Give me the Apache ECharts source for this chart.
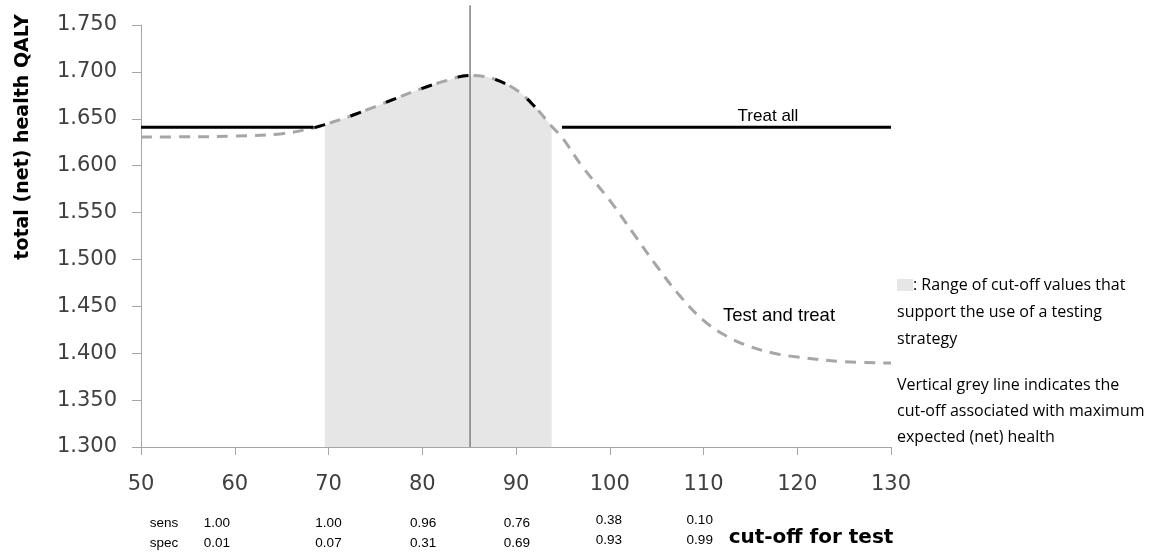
<!DOCTYPE html>
<html><head><meta charset="utf-8">
<script src="https://cdn.jsdelivr.net/npm/echarts@6/dist/echarts.min.js"></script>
<style>html,body{margin:0;padding:0;background:#fff}#c{width:1161px;height:552px}</style>
</head><body><div id="c"></div>
<script>
// ---- data ----
const cutoff    = [50, 55, 60, 65, 68.5, 69.6, 70, 72.5, 75, 77.5, 80, 82.5, 85, 86, 87.5, 90, 92, 93.8, 95, 97, 100, 102.5, 105, 107.5, 110, 112.5, 115, 117.5, 120, 125, 130];
const testTreat = [1.6305, 1.6308, 1.6315, 1.6340, 1.6405, 1.6438, 1.6450, 1.6535, 1.6630, 1.6730, 1.6825, 1.6905, 1.6962, 1.6958, 1.6930, 1.6810, 1.6630, 1.6420, 1.6290, 1.6000, 1.5630, 1.5280, 1.4930, 1.4610, 1.4350, 1.4180, 1.4070, 1.4000, 1.3960, 1.3910, 1.3895];
const treatAllValue = 1.641;
const treatAllLeft  = [50, 68.4];
const treatAllRight = [94.9, 130];
const optimalRange  = [68.5, 93.8];   // test better than treat-all (black dashed)
const shadedRange   = [69.6, 93.8];   // grey shaded region
const maxCutoff = 85.1;
const sensX      = [58.1, 70, 80.1, 90.1, 99.9, 109.6];
const sensLabels = ['1.00', '1.00', '0.96', '0.76', '0.38', '0.10'];
const specLabels = ['0.01', '0.07', '0.31', '0.69', '0.93', '0.99'];
const noteLines1 = [': Range of cut-off values that', 'support the use of a testing', 'strategy'];
const noteLines2 = ['Vertical grey line indicates the', 'cut-off associated with maximum', 'expected (net) health'];

const pts = cutoff.map((x, i) => [x, testTreat[i]]);
const inRange = (r) => pts.filter(p => p[0] >= r[0] - 1e-9 && p[0] <= r[1] + 1e-9);

const chart = echarts.init(document.getElementById('c'), null, {renderer: 'canvas'});
const axisFont = {fontFamily: 'DejaVu Sans', fontSize: 21, color: '#404040'};

const option = {
  animation: false,
  backgroundColor: '#fff',
  grid: {left: 141, right: 270, top: 25, bottom: 105},
  xAxis: {
    type: 'value', min: 50, max: 130, interval: 10,
    axisLine: {show: true, lineStyle: {color: '#a6a6a6', width: 1}},
    axisTick: {show: true, length: 8, lineStyle: {color: '#a6a6a6'}},
    axisLabel: Object.assign({margin: 27}, axisFont),
    splitLine: {show: false}
  },
  yAxis: {
    type: 'value', min: 1.3, max: 1.75, interval: 0.05,
    axisLine: {show: true, lineStyle: {color: '#a6a6a6', width: 1}},
    axisTick: {show: true, length: 9, lineStyle: {color: '#a6a6a6'}},
    axisLabel: Object.assign({margin: 24, formatter: v => v.toFixed(3)}, axisFont),
    splitLine: {show: false}
  },
  series: [
    {
      name: 'range', type: 'line', smooth: 0.4, symbol: 'none', z: 1,
      data: inRange(shadedRange),
      lineStyle: {width: 0},
      areaStyle: {color: '#e6e6e6', opacity: 1, origin: 'start'}
    },
    {
      name: 'max', type: 'line', symbol: 'none', z: 2, clip: false,
      data: [[maxCutoff, 1.3], [maxCutoff, 1.771]],
      lineStyle: {color: '#808080', width: 1.5}
    },
    {
      name: 'Test and treat', type: 'line', smooth: 0.4, symbol: 'none', z: 3,
      data: pts,
      lineStyle: {color: '#a6a6a6', width: 3, type: [11, 8]}
    },
    {
      name: 'Treat all L', type: 'line', symbol: 'none', z: 4,
      data: treatAllLeft.map(x => [x, treatAllValue]),
      lineStyle: {color: '#000', width: 3}
    },
    {
      name: 'Treat all R', type: 'line', symbol: 'none', z: 4,
      data: treatAllRight.map(x => [x, treatAllValue]),
      lineStyle: {color: '#000', width: 3}
    },
    {
      name: 'Optimal', type: 'line', smooth: 0.4, symbol: 'none', z: 5,
      data: inRange(optimalRange),
      lineStyle: {color: '#000', width: 3, type: [11, 27]}
    }
  ]
};
chart.setOption(option);

// ---- annotations ----
const g = [];
const txt = (t, x, y, font, align) => ({type: 'text', x, y,
  style: {text: t, font, fill: '#000', align: align || 'center', verticalAlign: 'middle'}});
g.push(Object.assign(txt('total (net) health QALY', 23, 137, 'bold 19px "DejaVu Sans"'), {rotation: Math.PI / 2}));
g.push(txt('cut-off for test', 811, 538, 'bold 20px "DejaVu Sans"'));
g.push(txt('Treat all', 768, 116, '17px "Liberation Sans"'));
g.push(txt('Test and treat', 779, 316, '18.5px "Liberation Sans"'));
g.push(txt('sens', 164, 523, '13.5px "Liberation Sans"'));
g.push(txt('spec', 164, 543, '13.5px "Liberation Sans"'));
sensX.forEach((xv, i) => {
  const px = chart.convertToPixel({xAxisIndex: 0}, xv);
  const dy = i >= 4 ? -3 : 0;
  g.push(txt(sensLabels[i], px, 523 + dy, '13.5px "Liberation Sans"'));
  g.push(txt(specLabels[i], px, 543 + dy, '13.5px "Liberation Sans"'));
});
g.push({type: 'rect', shape: {x: 897, y: 279, width: 16, height: 12}, style: {fill: '#e6e6e6'}});
noteLines1.forEach((t, i) => g.push(txt(t, i === 0 ? 913 : 897, 285 + i * 27, '16px "Open Sans"', 'left')));
noteLines2.forEach((t, i) => g.push(txt(t, 897, 385 + i * 26, '16px "Open Sans"', 'left')));
chart.setOption({graphic: {elements: g}});
</script>
</body></html>
